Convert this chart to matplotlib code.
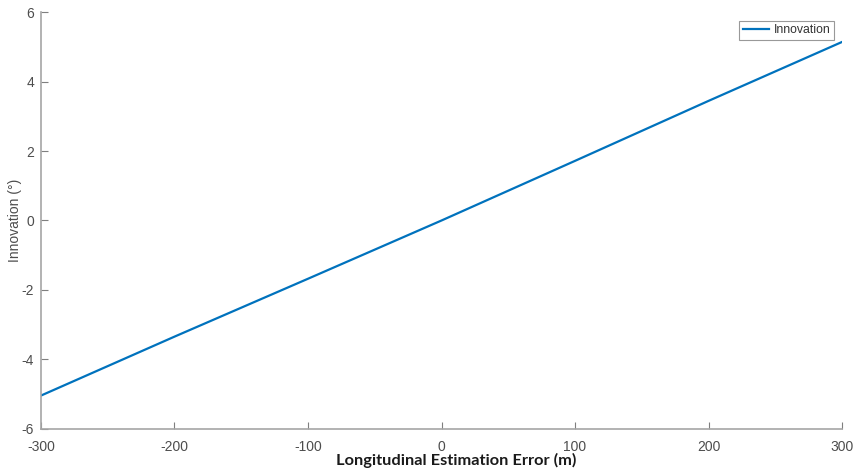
import matplotlib
matplotlib.use("Agg")
import matplotlib.pyplot as plt

# values
err_m = [-300, -200, -100, 0, 100, 200, 300]
innov_deg = [-5.05, -3.35, -1.68, 0.0, 1.72, 3.45, 5.15]

x_ticks = [-300, -200, -100, 0, 100, 200, 300]
y_ticks = [-6, -4, -2, 0, 2, 4, 6]

plt.rcParams["font.family"] = ["Liberation Sans", "DejaVu Sans"]
plt.rcParams["axes.unicode_minus"] = False

fig = plt.figure(figsize=(8.58, 4.69), dpi=100)
ax = fig.add_axes([41 / 858, 1 - 428.5 / 469, 801 / 858, 416 / 469])

ax.plot(err_m, innov_deg, color="#0072BD", lw=1.6, label="Innovation")

ax.set_xlim(-300, 300)
ax.set_ylim(-6, 6)
ax.set_xticks(x_ticks)
ax.set_yticks(y_ticks)

for side in ["top", "right"]:
    ax.spines[side].set_visible(False)
for side in ["left", "bottom"]:
    ax.spines[side].set_color("#a6a6a6")
    ax.spines[side].set_linewidth(1.2)
ax.tick_params(direction="in", length=5, color="#7f7f7f", labelcolor="#4d4d4d",
               labelsize=10)
ax.tick_params(axis="x", pad=8)
ax.tick_params(axis="y", pad=5)

ax.set_ylabel("Innovation (°)", fontsize=10, color="#4d4d4d")
ax.yaxis.set_label_coords(-0.024, 0.5)
ax.set_xlabel("Longitudinal Estimation Error (m)", fontsize=11.8, fontweight="bold",
              family=["Lato", "DejaVu Sans"], color="#1a1a1a")
ax.xaxis.set_label_coords(0.518, -0.058)

leg = ax.legend(loc="upper right", bbox_to_anchor=(0.99, 0.98), fontsize=8.8,
                fancybox=False, framealpha=1, handlelength=2.1, borderpad=0.3,
                handletextpad=0.4, borderaxespad=0)
leg.get_frame().set_edgecolor("#999999")
leg.get_frame().set_linewidth(0.8)
for t in leg.get_texts():
    t.set_color("#333333")

fig.savefig("out.png", dpi=100)
